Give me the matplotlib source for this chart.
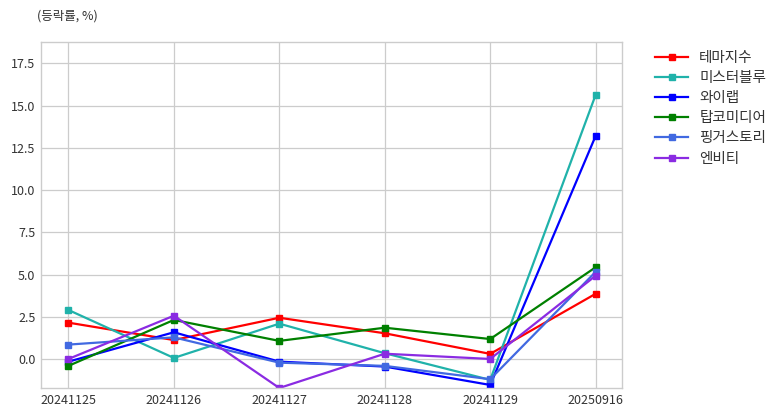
import matplotlib
matplotlib.use("Agg")
import matplotlib.pyplot as plt

dates = ["20241125", "20241126", "20241127", "20241128", "20241129", "20250916"]
names = ["테마지수", "미스터블루", "와이랩", "탑코미디어", "핑거스토리", "엔비티"]
theme = [2.15, 1.12, 2.44, 1.52, 0.30, 3.86]
misterblue = [2.90, 0.06, 2.09, 0.34, -1.24, 15.64]
ylab = [-0.16, 1.58, -0.16, -0.45, -1.54, 13.21]
topco = [-0.41, 2.31, 1.07, 1.85, 1.18, 5.43]
finger = [0.85, 1.28, -0.22, -0.41, -1.20, 5.16]
nbt = [0.0, 2.56, -1.72, 0.31, 0.0, 4.93]
series = [theme, misterblue, ylab, topco, finger, nbt]
colors = ["red", "lightseagreen", "blue", "green", "royalblue", "blueviolet"]

plt.rcParams['font.family'] = ['Noto Sans CJK KR', 'DejaVu Sans']

fig = plt.figure(figsize=(7.78, 4.16), dpi=100)
ax = fig.add_axes([0.0527, 0.0673, 0.7468, 0.8317])
x = list(range(len(dates)))
for name, vals, c in zip(names, series, colors):
    ax.plot(x, vals, color=c, marker='s', markersize=4.5, linewidth=1.6, label=name)

allv = [v for s in series for v in s]
ax.set_ylim(min(allv), max(allv) * 1.2)
ax.set_xlim(-0.26, len(dates) - 1 + 0.25)
ax.set_xticks(x)
ax.set_xticklabels(dates)
ax.set_yticks([0.0, 2.5, 5.0, 7.5, 10.0, 12.5, 15.0, 17.5])
ax.set_yticklabels(["0.0", "2.5", "5.0", "7.5", "10.0", "12.5", "15.0", "17.5"])
ax.tick_params(axis='both', labelsize=9, colors='#333333', length=0, pad=4)
ax.grid(True, color='#cccccc', linewidth=0.9)
ax.set_axisbelow(True)
for sp in ax.spines.values():
    sp.set_color('#cccccc')
    sp.set_linewidth(1.0)

fig.text(0.047, 0.962, "(등락률, %)", fontsize=9, color='#333333', ha='left', va='center')

leg = ax.legend(loc='upper left', bbox_to_anchor=(1.035, 1.012), frameon=False, fontsize=10.5,
                handlelength=2.2, labelspacing=0.42)
for t in leg.get_texts():
    t.set_color('#333333')

fig.savefig("out.png", dpi=100)
